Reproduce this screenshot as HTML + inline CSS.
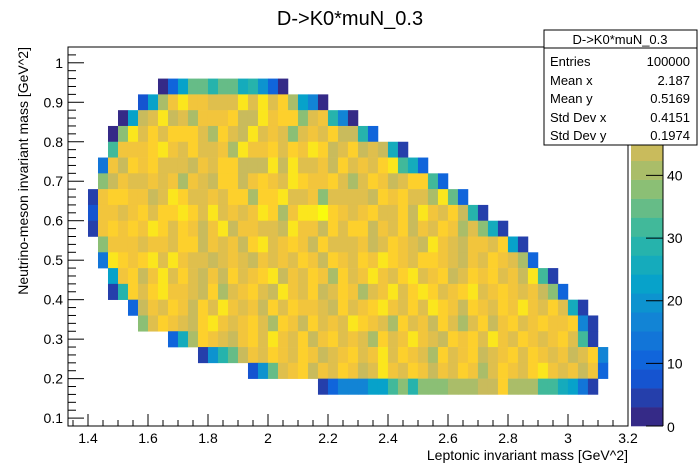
<!DOCTYPE html>
<html><head><meta charset="utf-8"><style>
html,body{margin:0;padding:0;background:#fff;}
svg{display:block;font-family:"Liberation Sans",sans-serif;}
</style></head><body>
<svg id="c" width="698" height="474" viewBox="0 0 698 474" xmlns="http://www.w3.org/2000/svg">
<rect x="0" y="0" width="698" height="474" fill="#fff"/>
<text x="350" y="25" font-size="20" text-anchor="middle">D-&gt;K0*muN_0.3</text>
<g id="cells"></g>
<g id="axes"></g>
<g id="pal"></g>
<text x="628" y="460" font-size="14" text-anchor="end">Leptonic invariant mass [GeV^2]</text>
<text transform="translate(28,47) rotate(-90)" font-size="14" text-anchor="end">Neutrino-meson invariant mass [GeV^2]</text>
<g>
<rect x="544" y="30" width="153" height="115" fill="#fff" stroke="#000" stroke-width="1"/>
<line x1="544" y1="48" x2="697" y2="48" stroke="#000"/>
<text x="620" y="44" font-size="13" text-anchor="middle">D-&gt;K0*muN_0.3</text>
<text x="550" y="66" font-size="13">Entries</text><text x="690" y="66" font-size="13" text-anchor="end">100000</text>
<text x="550" y="85" font-size="13">Mean x</text><text x="690" y="85" font-size="13" text-anchor="end">2.187</text>
<text x="550" y="103" font-size="13">Mean y</text><text x="690" y="103" font-size="13" text-anchor="end">0.5169</text>
<text x="550" y="122" font-size="13">Std Dev x</text><text x="690" y="122" font-size="13" text-anchor="end">0.4151</text>
<text x="550" y="140" font-size="13">Std Dev y</text><text x="690" y="140" font-size="13" text-anchor="end">0.1974</text>
</g>
</svg>
<script>
const xBinLow = 1.3333, xBinW = 0.03333;
const yBinLow = 0.08, yBinW = 0.04;
const zMax = 60.5, nLevels = 20;
const xTicks = [1.4,1.6,1.8,2,2.2,2.4,2.6,2.8,3,3.2];
const xTickLabels = ["1.4","1.6","1.8","2","2.2","2.4","2.6","2.8","3","3.2"];
const yTicks = [0.1,0.2,0.3,0.4,0.5,0.6,0.7,0.8,0.9,1];
const yTickLabels = ["0.1","0.2","0.3","0.4","0.5","0.6","0.7","0.8","0.9","1"];
const zTicks = [0,10,20,30,40];
// row index (y bin), first x bin, counts
const rowY = [21,20,19,18,17,16,15,14,13,12,11,10,9,8,7,6,5,4,3,2];
const rowStart = [9,7,5,4,4,3,3,2,2,2,3,3,4,4,6,7,10,13,18,25];
const r21=[3,10,22,36,36,30,36,36,27,29,19,11,3];
const r20=[9,23,40,50,55,50,50,47,47,47,55,47,55,47,53,40,23,16,3];
const r19=[3,22,45,47,55,45,47,40,50,50,50,52,45,45,55,50,52,52,37,47,50,30,16,3];
const r18=[3,37,55,47,52,47,52,52,52,47,40,52,47,45,55,47,50,47,37,47,50,47,52,45,44,28,12];
const r17=[33,50,50,50,52,55,50,47,52,47,47,50,40,55,50,50,52,47,52,50,57,52,45,47,52,45,47,45,25,4];
const r16=[14,50,45,52,50,52,47,47,47,45,50,47,52,52,45,45,45,55,45,55,47,47,50,45,52,47,50,47,52,55,33,27,10];
const r15=[37,45,50,47,47,50,47,50,40,50,47,45,52,52,45,50,52,50,47,55,52,50,50,52,47,40,47,52,50,45,47,52,52,33,11];
const r14=[4,50,52,52,50,50,45,47,55,52,47,47,50,47,52,52,40,52,52,57,47,47,50,37,47,47,47,47,45,52,50,52,47,47,40,55,35,10];
const r13=[8,50,50,47,50,52,47,52,52,55,52,47,55,47,50,47,50,57,52,40,50,55,55,60,52,50,47,50,52,47,47,52,45,55,50,47,52,45,30,6];
const r12=[4,50,52,50,52,50,55,52,47,52,50,45,50,55,45,50,50,47,47,45,55,50,50,45,52,47,52,52,45,50,47,52,45,50,47,52,50,40,47,37,25,4];
const r11=[38,50,50,50,47,50,50,47,52,52,45,50,47,50,45,52,55,47,50,52,50,45,52,47,47,47,50,45,47,52,50,47,45,55,50,47,45,50,50,47,52,22,4];
const r10=[14,55,52,50,52,55,47,55,50,47,47,45,47,50,47,45,50,47,50,47,52,50,45,52,50,47,52,50,55,52,50,47,52,52,50,47,45,50,47,52,50,47,40,11];
const r9=[24,50,52,45,50,55,47,52,47,45,50,45,52,47,50,52,57,45,50,47,52,50,40,52,47,50,55,50,47,52,55,47,50,52,45,47,52,50,52,47,50,45,55,31,4];
const r8=[4,30,52,47,52,55,50,50,47,45,52,40,47,50,52,47,45,55,50,47,52,45,47,52,50,40,47,50,57,47,52,55,52,47,50,52,55,47,50,52,50,47,50,45,37,11];
const r7=[12,45,50,47,52,50,45,52,47,55,50,47,50,45,52,47,52,50,50,47,45,52,47,50,52,55,50,47,52,47,55,52,50,45,52,50,47,52,50,55,50,47,52,47,25,4];
const r6=[37,47,52,50,47,45,52,55,50,47,50,52,47,40,52,50,45,52,47,50,47,55,52,50,47,40,52,47,50,45,52,47,40,47,52,45,50,52,47,50,52,50,50,52,18,5];
const r5=[10,25,40,52,50,47,45,50,52,47,55,50,47,52,45,50,52,47,50,47,40,52,47,50,57,50,47,45,52,50,52,47,55,50,47,52,50,47,50,52,47,32,4];
const r4=[5,20,30,35,45,50,47,52,50,47,52,50,45,47,50,52,47,50,55,47,52,50,47,40,52,47,50,52,45,47,50,52,47,52,50,47,50,45,47,52,17];
const r3=[8,20,35,47,50,52,45,50,47,52,50,45,47,55,50,47,52,50,45,50,47,52,50,40,47,52,50,47,52,55,50,47,50,45,50,12];
const r2=[4,11,16,18,18,24,24,33,38,30,38,38,37,42,42,42,45,45,53,42,42,42,33,33,27,22,13,4];
const rowCounts=[r21,r20,r19,r18,r17,r16,r15,r14,r13,r12,r11,r10,r9,r8,r7,r6,r5,r4,r3,r2];

const X0=68,X1=628,Y0=426,Y1=47;
const xMin=1.3333,xMax=3.2,yMin=0.08,yMax=1.04;
const sx=v=>X0+(v-xMin)/(xMax-xMin)*(X1-X0);
const sy=v=>Y0-(v-yMin)/(yMax-yMin)*(Y0-Y1);
const sz=v=>426-(v/zMax)*(426-47);
const stops=[0,0.125,0.25,0.375,0.5,0.625,0.75,0.875,1];
const R=[0.2082,0.0592,0.0780,0.0232,0.1802,0.5301,0.8186,0.9956,0.9764];
const G=[0.1664,0.3599,0.5041,0.6419,0.7178,0.7492,0.7328,0.7862,0.9832];
const B=[0.5293,0.8684,0.8385,0.7914,0.6425,0.4662,0.3499,0.1968,0.0539];
function pal(f){f=Math.max(0,Math.min(1,f));let i=0;while(i<7&&f>stops[i+1])i++;const t=(f-stops[i])/(stops[i+1]-stops[i]);
const c=a=>Math.round(255*(a[i]+(a[i+1]-a[i])*t));return `rgb(${c(R)},${c(G)},${c(B)})`;}
function levelColor(v){let k=Math.floor(v/zMax*nLevels);k=Math.max(0,Math.min(nLevels-1,k));return pal(k/(nLevels-1));}
const NS="http://www.w3.org/2000/svg";
function mk(tag,attrs,parent){const e=document.createElementNS(NS,tag);for(const k in attrs)e.setAttribute(k,attrs[k]);parent.appendChild(e);return e;}
const cells=document.getElementById('cells');
rowY.forEach((j,ri)=>{const vals=rowCounts[ri];vals.forEach((v,k)=>{const i=rowStart[ri]+k;
const xa=xBinLow+i*xBinW, ya=yBinLow+j*yBinW;
const x=sx(xa),y=sy(ya+yBinW),w=sx(xa+xBinW)-x+0.3,h=sy(ya)-y+0.3;
const r=mk('rect',{x:x,y:y,width:w,height:h,fill:levelColor(v)},cells);

});});
const ax=document.getElementById('axes');
mk('rect',{x:X0,y:Y1,width:X1-X0,height:Y0-Y1,fill:'none',stroke:'#000','stroke-width':1},ax);
for(let v=1.35;v<=3.2001;v+=0.05){const x=sx(v);const major=xTicks.some(t=>Math.abs(t-v)<1e-6);
mk('line',{x1:x,y1:Y0,x2:x,y2:Y0-(major?12:6),stroke:'#000'},ax);}
xTicks.forEach((v,i)=>{const t=mk('text',{x:sx(v),y:443,'font-size':14,'text-anchor':'middle'},ax);t.textContent=xTickLabels[i];

});
for(let v=0.08;v<=1.0401;v+=0.02){const y=sy(v);const major=yTicks.some(t=>Math.abs(t-v)<1e-6);
mk('line',{x1:X0,y1:y,x2:X0+(major?16:8),y2:y,stroke:'#000'},ax);}
yTicks.forEach((v,i)=>{const t=mk('text',{x:63,y:sy(v)+5,'font-size':14,'text-anchor':'end'},ax);t.textContent=yTickLabels[i];

});
const pg=document.getElementById('pal');
for(let k=0;k<nLevels;k++){const a=sz(k*zMax/nLevels),b=sz((k+1)*zMax/nLevels);
mk('rect',{x:631,y:b,width:32,height:a-b+0.3,fill:pal(k/(nLevels-1))},pg);}
mk('line',{x1:663,y1:47,x2:663,y2:426,stroke:'#000'},pg);
zTicks.forEach(v=>{const y=sz(v);mk('line',{x1:646,y1:y,x2:663,y2:y,stroke:'#000'},pg);
const t=mk('text',{x:667,y:y+(v===0?6:5),'font-size':14},pg);t.textContent=String(v);

});
</script>
</body></html>
